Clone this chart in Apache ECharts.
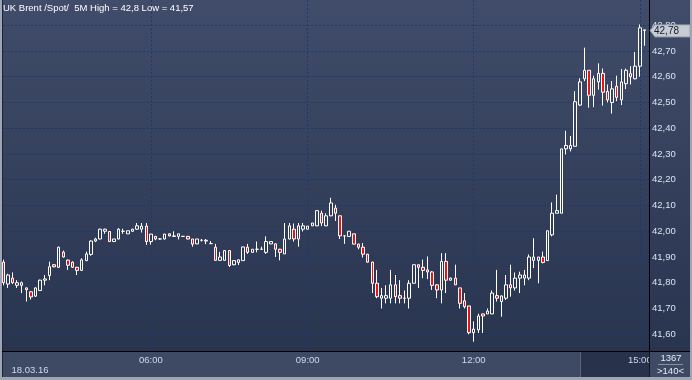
<!DOCTYPE html>
<html><head><meta charset="utf-8">
<script src="https://cdn.jsdelivr.net/npm/echarts@6/dist/echarts.min.js"></script>
<style>html,body{margin:0;padding:0;background:#9ea6b5}#c{width:692px;height:380px}</style>
</head><body><div id="c"></div>
<script>
const titleText = 'UK Brent /Spot/  5M High = 42,8 Low = 41,57';
const dateLabel = '18.03.16';
const tickIndex = [32, 66, 102, 138];
const tickText = ['06:00', '09:00', '12:00', '15:00'];
const barsCount = '1367';
const shownCount = '>140<';

const opens = [41.88,41.795,41.818,41.79,41.79,41.78,41.765,41.748,41.77,41.81,
41.828,41.87,41.86,41.919,41.888,41.88,41.86,41.848,41.886,41.91,
41.962,41.97,42.0,41.999,41.96,41.97,42.0,41.99,42.0,42.008,
42.008,42.02,41.96,41.98,41.97,41.97,41.99,41.98,41.98,41.98,
41.98,41.97,41.951,41.965,41.965,41.952,41.938,41.887,41.887,41.925,
41.87,41.879,41.886,41.938,41.918,41.93,41.93,41.918,41.951,41.951,
41.93,41.912,41.97,42.008,41.97,42.008,42.008,42.021,42.021,42.07,
42.021,42.06,42.09,42.06,41.982,41.98,41.99,41.95,41.938,41.911,
41.88,41.798,41.74,41.74,41.74,41.792,41.75,41.74,41.74,41.798,
41.87,41.86,41.85,41.842,41.792,41.772,41.883,41.81,41.818,41.78,
41.73,41.71,41.606,41.617,41.679,41.679,41.679,41.75,41.727,41.74,
41.792,41.78,41.818,41.818,41.818,41.887,41.887,41.90,41.886,41.986,
42.07,42.07,42.32,42.32,42.33,42.49,42.592,42.625,42.528,42.58,
42.613,42.543,42.50,42.563,42.51,42.573,42.612,42.592,42.641,42.782];

const highs = [41.89,41.835,41.84,41.81,41.805,41.782,41.768,41.782,41.812,41.83,
41.882,41.872,41.94,41.925,41.89,41.883,41.862,41.895,41.921,41.965,
41.975,42.01,42.01,42.0,41.97,42.012,42.01,42.002,42.01,42.032,
42.032,42.032,41.99,41.982,41.972,41.99,41.992,42.0,41.99,41.982,
41.982,41.97,41.97,41.97,41.97,41.962,41.951,41.92,41.925,41.925,
41.888,41.89,41.94,41.951,41.93,41.96,41.94,41.98,41.96,41.953,
41.932,42.032,42.032,42.03,42.032,42.032,42.02,42.032,42.08,42.08,
42.07,42.13,42.103,42.06,41.982,42.0,41.99,41.952,41.954,41.912,
41.882,41.85,41.78,41.79,41.85,41.83,41.81,41.77,41.81,41.87,
41.87,41.89,41.902,41.845,41.795,41.915,41.915,41.82,41.87,41.78,
41.76,41.71,41.65,41.68,41.68,41.70,41.77,41.85,41.75,41.83,
41.87,41.84,41.843,41.85,41.91,41.973,41.90,41.921,42.002,42.112,
42.142,42.32,42.39,42.37,42.544,42.594,42.713,42.625,42.604,42.652,
42.632,42.57,42.583,42.604,42.63,42.632,42.641,42.696,42.803,42.782];

const lows = [41.79,41.78,41.795,41.78,41.76,41.727,41.735,41.745,41.768,41.79,
41.81,41.86,41.858,41.898,41.85,41.858,41.83,41.846,41.884,41.905,
41.958,41.968,41.99,41.958,41.958,41.968,41.99,41.99,41.998,42.005,
41.995,41.947,41.948,41.965,41.968,41.968,41.98,41.98,41.968,41.978,
41.968,41.94,41.95,41.96,41.95,41.952,41.885,41.886,41.887,41.861,
41.868,41.869,41.885,41.912,41.918,41.918,41.928,41.912,41.95,41.90,
41.887,41.912,41.968,41.96,41.94,41.999,42.008,42.021,42.02,42.02,
42.02,42.058,42.04,41.97,41.951,41.98,41.95,41.93,41.898,41.878,
41.76,41.74,41.70,41.72,41.72,41.72,41.72,41.72,41.70,41.798,
41.78,41.818,41.814,41.772,41.74,41.72,41.76,41.808,41.792,41.70,
41.70,41.60,41.571,41.605,41.605,41.679,41.679,41.727,41.668,41.733,
41.746,41.77,41.76,41.79,41.81,41.857,41.798,41.875,41.886,41.98,
42.07,42.07,42.298,42.31,42.33,42.486,42.583,42.48,42.482,42.55,
42.488,42.50,42.457,42.505,42.49,42.552,42.57,42.59,42.60,42.72];

const closes = [41.80,41.83,41.80,41.80,41.80,41.773,41.745,41.78,41.81,41.815,
41.862,41.862,41.938,41.90,41.868,41.86,41.848,41.889,41.912,41.962,
41.97,42.008,42.008,41.96,41.97,42.008,42.0,42.002,42.008,42.021,
42.02,41.96,41.989,41.97,41.97,41.989,41.982,41.982,41.99,41.98,
41.97,41.95,41.97,41.965,41.962,41.952,41.887,41.90,41.925,41.867,
41.886,41.889,41.939,41.918,41.93,41.93,41.93,41.96,41.96,41.93,
41.918,41.97,42.021,41.97,42.021,42.021,42.02,42.032,42.08,42.032,
42.06,42.11,42.07,41.982,41.982,42.0,41.95,41.938,41.911,41.88,
41.798,41.746,41.75,41.75,41.792,41.746,41.74,41.74,41.798,41.87,
41.86,41.848,41.842,41.79,41.772,41.883,41.81,41.818,41.792,41.72,
41.707,41.606,41.62,41.671,41.671,41.69,41.76,41.74,41.749,41.792,
41.78,41.818,41.83,41.83,41.90,41.90,41.90,41.879,42.002,42.07,
42.08,42.32,42.333,42.333,42.503,42.58,42.625,42.528,42.592,42.613,
42.54,42.51,42.553,42.52,42.58,42.625,42.60,42.641,42.79,42.78];

const yMin = 41.535, yMax = 42.898;

const categories = opens.map((_, i) => String(i)).concat(['']);
const candles = opens.map((o, i) => [o, closes[i], lows[i], highs[i]]);
const fmt = v => v.toFixed(2).replace('.', ',');
const FONT = '"Liberation Sans", Arial, sans-serif';
const gridStyle = { color: '#1d3a6c', type: [2, 2], width: 1 };

const chart = echarts.init(document.getElementById('c'), null, { renderer: 'canvas' });
chart.setOption({
  animation: false,
  backgroundColor: 'transparent',
  textStyle: { fontFamily: FONT },
  title: {
    text: titleText, left: 3, top: 3, padding: 0,
    textStyle: { color: '#ffffff', fontSize: 9.5, fontWeight: 'normal', fontFamily: FONT }
  },
  grid: { left: 3.3, right: 43, top: 0, bottom: 29, containLabel: false },
  xAxis: {
    type: 'category', data: categories, boundaryGap: false,
    axisLine: { show: true, lineStyle: { color: '#000000', width: 1 } },
    axisTick: { show: false },
    axisLabel: {
      interval: (i) => tickIndex.includes(i),
      formatter: (v, i) => { const k = tickIndex.indexOf(i); return k >= 0 ? tickText[k] : ''; },
      color: (v, i) => (i === tickIndex[tickIndex.length - 1] ? '#6f7a90' : '#cfdaee'),
      fontSize: 9.5, margin: 4, fontFamily: FONT
    },
    splitLine: { show: true, interval: (i) => tickIndex.includes(i), lineStyle: gridStyle }
  },
  yAxis: {
    type: 'value', position: 'right', min: yMin, max: yMax, splitNumber: 13, scale: true,
    axisLine: { show: true, lineStyle: { color: '#000000', width: 1 } },
    axisTick: { show: false },
    axisLabel: { formatter: fmt, color: '#dbe3f1', fontSize: 9.5, margin: 3, showMinLabel: false, showMaxLabel: false, fontFamily: FONT },
    splitLine: { show: true, lineStyle: gridStyle, showMinLine: false, showMaxLine: false }
  },
  series: [{
    type: 'candlestick', data: candles, barWidth: 3, clip: true,
    itemStyle: {
      color: 'rgba(0,0,0,0)', color0: '#ee1111',
      borderColor: '#ffffff', borderColor0: '#ffffff', borderColorDoji: '#ffffff', borderWidth: 1
    }
  }]
});

const last = closes[closes.length - 1];
const yc = chart.convertToPixel({ yAxisIndex: 0 }, last);
const bg = new echarts.graphic.LinearGradient(0, 0, 0, 1, [
  { offset: 0, color: '#404c69' }, { offset: 1, color: '#29344f' }
]);
chart.setOption({
  graphic: [{ elements: [
    { id: 'outer', type: 'rect', z: -30, silent: true, shape: { x: 0, y: 0, width: 692, height: 380 }, style: { fill: '#9ea6b5' } },
    { id: 'plotbg', type: 'rect', z: -20, silent: true, shape: { x: 3, y: 0, width: 687, height: 351 }, style: { fill: bg } },
    { id: 'leftline', type: 'rect', z: -19, silent: true, shape: { x: 2, y: 0, width: 1, height: 377 }, style: { fill: '#1c2438' } },
    { id: 'strip', type: 'rect', z: -20, silent: true, shape: { x: 3, y: 351, width: 687, height: 26 }, style: { fill: '#3e4964' } },
    { id: 'scroll', type: 'rect', z: -19, silent: true, shape: { x: 581, y: 352, width: 68, height: 25 }, style: { fill: '#28324a' } },
    { id: 'scrollEdge', type: 'rect', z: -18, silent: true, shape: { x: 580, y: 352, width: 1, height: 25 }, style: { fill: '#5d677c' } },
    { id: 'hline', type: 'rect', z: 40, silent: true, shape: { x: 2, y: 351, width: 688, height: 1 }, style: { fill: '#000000' } },
    { id: 'box', type: 'rect', z: 40, silent: true, shape: { x: 649, y: 352, width: 41, height: 25 }, style: { fill: '#3e4964' } },
    { id: 'boxEdge', type: 'rect', z: 41, silent: true, shape: { x: 649, y: 352, width: 1, height: 25 }, style: { fill: '#111827' } },
    { id: 'cnt', type: 'text', z: 42, silent: true, x: 671, y: 358.5, style: { text: barsCount, fill: '#e6ecf6', font: '9.5px ' + FONT, align: 'center', verticalAlign: 'middle' } },
    { id: 'sep', type: 'rect', z: 42, silent: true, shape: { x: 658, y: 364, width: 25, height: 1 }, style: { fill: '#8690a4' } },
    { id: 'shown', type: 'text', z: 42, silent: true, x: 670.5, y: 371, style: { text: shownCount, fill: '#e6ecf6', font: '9.5px ' + FONT, align: 'center', verticalAlign: 'middle' } },
    { id: 'date', type: 'text', z: 42, silent: true, x: 11.5, y: 370.5, style: { text: dateLabel, fill: '#cfdaee', font: '9.5px ' + FONT, align: 'left', verticalAlign: 'middle' } },
    { id: 'tag', type: 'polygon', z: 50, silent: true, shape: { points: [[650, yc], [655, yc - 5.5], [690, yc - 5.5], [690, yc + 6.5], [655, yc + 6.5]] }, style: { fill: '#c7ccd4', stroke: '#9aa1ad', lineWidth: 1 } },
    { id: 'tagText', type: 'text', z: 51, silent: true, x: 654, y: yc + 0.5, style: { text: fmt(last), fill: '#141c33', font: '10px ' + FONT, align: 'left', verticalAlign: 'middle' } }
  ] }]
});
</script></body></html>
